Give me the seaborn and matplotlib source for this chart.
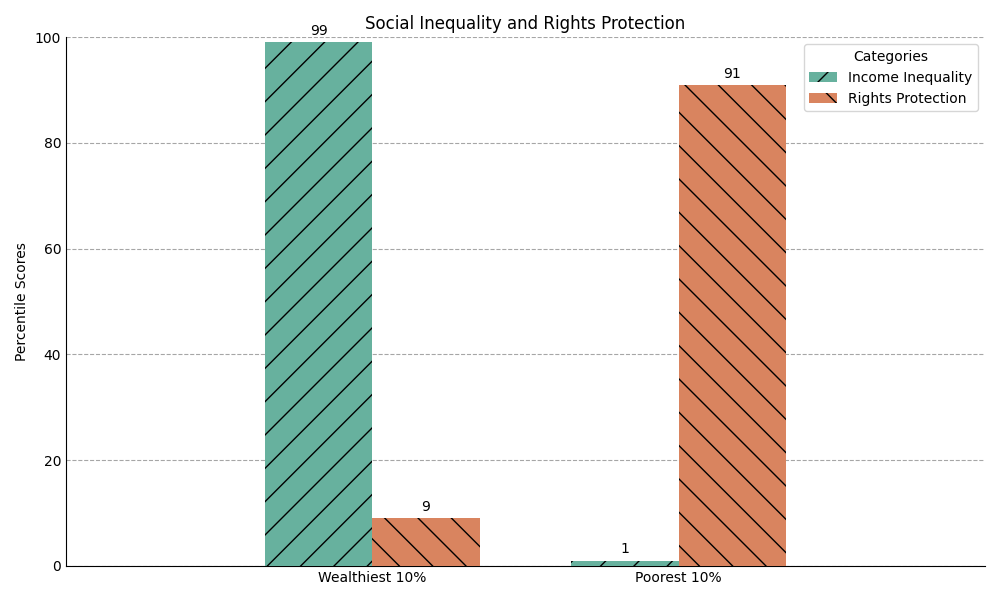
import matplotlib
matplotlib.use("Agg")
import matplotlib.pyplot as plt
import seaborn as sns
import pandas as pd

groups = ["Wealthiest 10%", "Poorest 10%"]
income_inequality = [99, 1]
rights_protection = [9, 91]
series_names = ["Income Inequality", "Rights Protection"]
colors = ["#67b19e", "#d9845f"]
hatches = ["/", "\\"]

df = pd.DataFrame({
    "group": groups * 2,
    "category": [series_names[0]] * 2 + [series_names[1]] * 2,
    "score": income_inequality + rights_protection,
})

fig, ax = plt.subplots(figsize=(10, 6), dpi=100)
sns.barplot(data=df, x="group", y="score", hue="category", palette=colors,
            saturation=1, width=0.7, edgecolor="black", linewidth=0,
            ax=ax, zorder=3)

for cont, h in zip(ax.containers, hatches):
    for bar in cont:
        bar.set_hatch(h)
    ax.bar_label(cont, padding=3)

ax.set_xlim(-1, 2)
ax.set_ylim(0, 100)
ax.set_xlabel("")
ax.set_ylabel("Percentile Scores")
ax.set_title("Social Inequality and Rights Protection")
ax.yaxis.grid(True, linestyle="--", color="gray", alpha=0.7, zorder=0)
ax.set_axisbelow(True)
ax.tick_params(length=0)
ax.spines["top"].set_visible(False)
ax.spines["right"].set_visible(False)

leg = ax.legend(title="Categories", loc="upper right")
for patch, h in zip(leg.get_patches(), hatches):
    patch.set_hatch(h)
    patch.set_edgecolor("black")
    patch.set_linewidth(0)

fig.subplots_adjust(left=0.066, right=0.985, top=0.938, bottom=0.057)
plt.savefig("out.png")
